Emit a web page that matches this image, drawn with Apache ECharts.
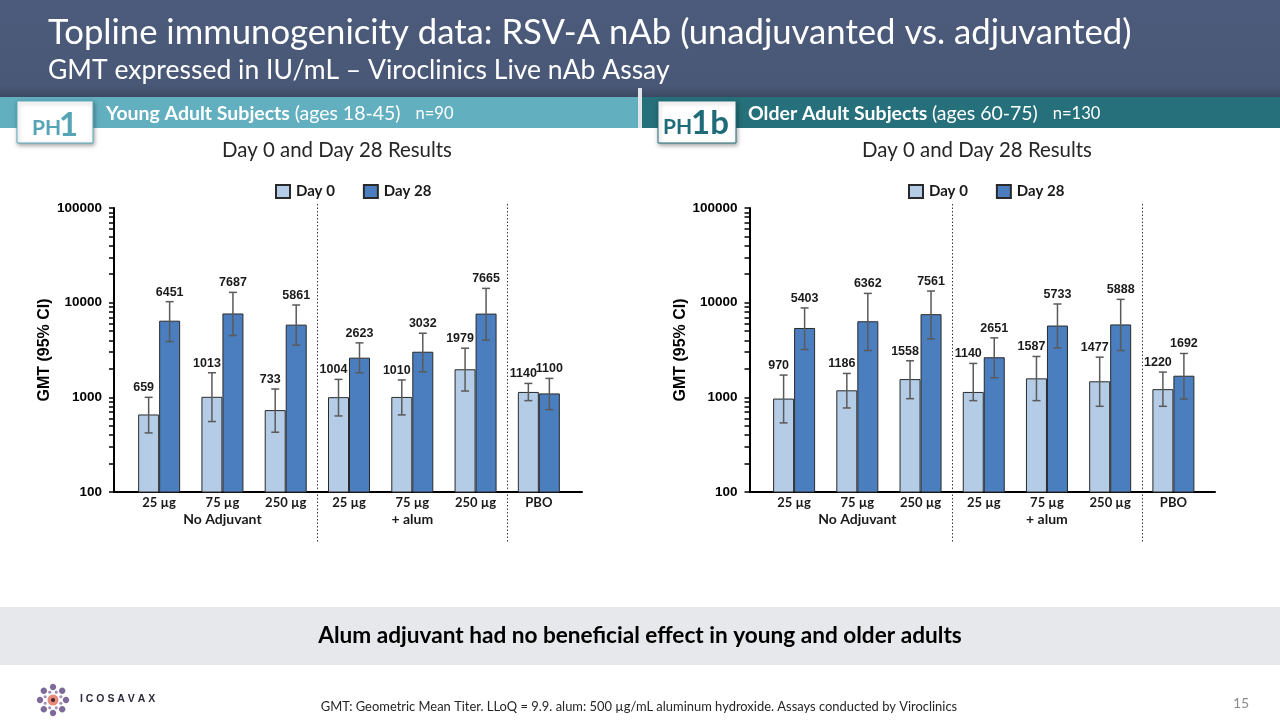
<!DOCTYPE html>
<html>
<head>
<meta charset="utf-8">
<script src="https://cdn.jsdelivr.net/npm/echarts@6/dist/echarts.min.js"></script>
<style>
html,body{margin:0;padding:0;background:#fff;}
#main{width:1280px;height:720px;}
</style>
</head>
<body>
<div id="main"></div>
<script>
// ---------------- DATA ----------------
const categories = ['25 µg', '75 µg', '250 µg', '25 µg', '75 µg', '250 µg', 'PBO'];
const groupLabels = ['', 'No Adjuvant', '', '', '+ alum', '', ''];
const seriesNames = ['Day 0', 'Day 28'];
const yTickLabels = [100, 1000, 10000, 100000];
const yMinorTicks = [100,200,300,400,500,600,700,800,900,1000,2000,3000,4000,5000,6000,7000,8000,9000,10000,20000,30000,40000,50000,60000,70000,80000,90000,100000];

// Young adults (PH1)
const youngDay0 = [659, 1013, 733, 1004, 1010, 1979, 1140];
const youngDay0Low = [421, 555, 428, 636, 652, 1166, 923];
const youngDay0High = [1000, 1818, 1224, 1547, 1526, 3303, 1403];
const youngDay28 = [6451, 7687, 5861, 2623, 3032, 7665, 1100];
const youngDay28Low = [3882, 4494, 3555, 1818, 1862, 4013, 741];
const youngDay28High = [10245, 12846, 9450, 3762, 4753, 14158, 1585];

// Older adults (PH1b)
const olderDay0 = [970, 1186, 1558, 1140, 1587, 1477, 1220];
const olderDay0Low = [537, 772, 968, 923, 923, 804, 804];
const olderDay0High = [1718, 1788, 2433, 2281, 2702, 2658, 1848];
const olderDay28 = [5403, 6362, 7561, 2651, 5733, 5888, 1692];
const olderDay28Low = [3200, 3124, 4144, 1611, 3336, 3124, 960];
const olderDay28High = [8794, 12530, 13270, 4247, 9684, 10840, 2905];

// ---------------- STYLE ----------------
const CAL = 'Lato, "Open Sans", sans-serif';
const ARI = '"Liberation Sans", Arial, sans-serif';
const C_D0 = '#b4cce6';
const C_D28 = '#4a7ebf';
const C_BORDER = '#2a2a2a';

const mctx = document.createElement('canvas').getContext('2d');
function fitSize(text, weight, family, width) {
  mctx.font = weight + ' 100px ' + family;
  return 100 * width / mctx.measureText(text).width;
}

const chart = echarts.init(document.getElementById('main'), null, {renderer: 'canvas'});

function makeRows(vals, lo, hi) {
  return vals.map((v, i) => [i, lo[i], hi[i], v]);
}

function errRender(offset, labelDx) {
  return function (params, api) {
    const i = api.value(0);
    const lo = api.coord([i, api.value(1)]);
    const hi = api.coord([i, api.value(2)]);
    const x = lo[0] + offset;
    const cap = 4;
    const ls = {stroke: '#5a5a5a', lineWidth: 1.5};
    return {
      type: 'group',
      children: [
        {type: 'line', shape: {x1: x, y1: lo[1], x2: x, y2: hi[1]}, style: ls},
        {type: 'line', shape: {x1: x - cap, y1: hi[1], x2: x + cap, y2: hi[1]}, style: ls},
        {type: 'line', shape: {x1: x - cap, y1: lo[1], x2: x + cap, y2: lo[1]}, style: ls},
        {type: 'text', x: x + labelDx, y: hi[1] - 3,
          style: {text: String(api.value(3)), align: 'center', verticalAlign: 'bottom',
            font: 'bold 12.5px ' + ARI, fill: '#1a1a1a'}}
      ]
    };
  };
}

function frameY(gridIndex) {
  return {
    type: 'log', logBase: 10, gridIndex: gridIndex, min: 100, max: 100000,
    axisLine: {show: true, lineStyle: {color: '#000', width: 2}},
    axisTick: {show: true, customValues: yMinorTicks, length: 5, inside: false,
      lineStyle: {color: '#000', width: 1.5}},
    axisLabel: {show: true, customValues: yTickLabels, margin: 12,
      formatter: function (v) { return String(Math.round(v)); },
      fontFamily: ARI, fontWeight: 'bold', fontSize: 13.5, color: '#000'},
    splitLine: {show: false},
    name: 'GMT (95% CI)', nameLocation: 'middle', nameGap: 60,
    nameTextStyle: {fontFamily: ARI, fontWeight: 'bold', fontSize: 16, color: '#000'}
  };
}
function barsY(gridIndex) {
  return {type: 'log', logBase: 10, gridIndex: gridIndex, min: 100, max: 100000, show: false};
}
function frameX(gridIndex) {
  return {
    type: 'category', gridIndex: gridIndex, data: [''],
    axisLine: {show: true, lineStyle: {color: '#000', width: 2}},
    axisTick: {show: false}, axisLabel: {show: false}, splitLine: {show: false}
  };
}
function barsX(gridIndex) {
  return {
    type: 'category', gridIndex: gridIndex, data: categories,
    axisLine: {show: false}, axisTick: {show: false},
    axisLabel: {
      show: true, margin: 3, interval: 0,
      formatter: function (v, idx) {
        return groupLabels[idx] ? '{a|' + v + '}\n{b|' + groupLabels[idx] + '}' : '{a|' + v + '}';
      },
      rich: {
        a: {fontFamily: CAL, fontWeight: 'bold', fontSize: 13, lineHeight: 16.5, color: '#1a1a1a'},
        b: {fontFamily: CAL, fontWeight: 'bold', fontSize: 14, lineHeight: 16.5, color: '#1a1a1a'}
      }
    }
  };
}

function barSeries(name, data, color, xi) {
  return {
    type: 'bar', name: name, data: data, xAxisIndex: xi, yAxisIndex: xi,
    barWidth: 21, barGap: '0%', clip: true,
    itemStyle: {color: color, borderColor: C_BORDER, borderWidth: 1},
    emphasis: {disabled: true}, z: 2
  };
}
function errSeries(name, rows, xi, offset, dx) {
  return {
    type: 'custom', name: name + ' CI', data: rows, xAxisIndex: xi, yAxisIndex: xi,
    renderItem: errRender(offset, dx), encode: {x: 0, y: [1, 2]}, z: 5, silent: true
  };
}

// ---------------- TEXT SIZES ----------------
const titleText = 'Topline immunogenicity data: RSV-A nAb (unadjuvanted vs. adjuvanted)';
const subText = 'GMT expressed in IU/mL – Viroclinics Live nAb Assay';
const fsTitle = fitSize(titleText, 'normal', CAL, 1084);
const fsSub = fitSize(subText, 'normal', CAL, 622);
const fsBand = fitSize('Young Adult Subjects', 'bold', CAL, 184);
const fsRes = fitSize('Day 0 and Day 28 Results', 'normal', CAL, 230);
const bottomText = 'Alum adjuvant had no beneficial effect in young and older adults';
const fsBottom = fitSize(bottomText, 'bold', CAL, 644);
const footText = 'GMT: Geometric Mean Titer. LLoQ = 9.9. alum: 500 µg/mL aluminum hydroxide. Assays conducted by Viroclinics';
const fsFoot = fitSize(footText, 'normal', CAL, 637);

// logo petals
const logoParts = [];
for (let k = 0; k < 8; k++) {
  const a = k * Math.PI / 4;
  logoParts.push({type: 'ellipse', shape: {cx: 53 + 13 * Math.cos(a), cy: 700 + 13 * Math.sin(a), rx: 3.2, ry: 3.2},
    style: {fill: '#7d6a98'}});
  logoParts.push({type: 'circle', shape: {cx: 53 + 8.5 * Math.cos(a + Math.PI / 8), cy: 700 + 8.5 * Math.sin(a + Math.PI / 8), r: 1.6},
    style: {fill: '#a48fb8'}});
}
logoParts.push({type: 'circle', shape: {cx: 53, cy: 700, r: 5.5}, style: {fill: '#e8897a'}});
logoParts.push({type: 'circle', shape: {cx: 53, cy: 700, r: 2}, style: {fill: '#3a2430'}});

function bandRich() {
  return {b: {fontFamily: CAL, fontWeight: 'bold', fontSize: fsBand, fill: '#fff'},
    n: {fontFamily: CAL, fontSize: fsBand, fill: '#fff'},
    s: {fontFamily: CAL, fontSize: fsBand * 0.85, fill: '#fff'}};
}

const graphics = [
  {type: 'rect', shape: {x: 0, y: 0, width: 1280, height: 97}, silent: true,
    style: {fill: new echarts.graphic.LinearGradient(0, 0, 0, 1, [
      {offset: 0, color: '#4c5b7b'}, {offset: 0.88, color: '#4a5877'}, {offset: 1, color: '#3d4962'}])}},
  {type: 'text', x: 48, y: 33, style: {text: titleText, font: 'normal ' + fsTitle + 'px ' + CAL, fill: '#ffffff', verticalAlign: 'middle'}},
  {type: 'text', x: 48, y: 70, style: {text: subText, font: 'normal ' + fsSub + 'px ' + CAL, fill: '#ffffff', verticalAlign: 'middle'}},
  {type: 'rect', shape: {x: 0, y: 97, width: 638, height: 31}, style: {fill: '#62afbf'}},
  {type: 'rect', shape: {x: 638, y: 88, width: 4, height: 40}, style: {fill: '#e3e5ea'}},
  {type: 'rect', shape: {x: 642, y: 97, width: 638, height: 31}, style: {fill: '#25707a'}},
  {type: 'text', x: 106, y: 114, style: {
    text: '{b|Young Adult Subjects }{n|(ages 18-45)   }{s|n=90}', verticalAlign: 'middle', rich: bandRich()}},
  {type: 'text', x: 748, y: 114, style: {
    text: '{b|Older Adult Subjects }{n|(ages 60-75)   }{s|n=130}', verticalAlign: 'middle', rich: bandRich()}},
  // PH badges
  {type: 'rect', shape: {x: 17, y: 101, width: 76, height: 42}, style: {fill: '#fff', stroke: '#5aaabb', lineWidth: 1,
    shadowBlur: 4, shadowColor: 'rgba(0,0,0,0.35)', shadowOffsetX: 1, shadowOffsetY: 2}},
  {type: 'text', x: 32, y: 128.5, style: {text: 'PH', font: 'bold 21px ' + CAL, fill: '#56a5b6', verticalAlign: 'middle'}},
  {type: 'text', x: 59, y: 125, style: {text: '1', font: 'bold 33px ' + CAL, fill: '#56a5b6', verticalAlign: 'middle'}},
  {type: 'rect', shape: {x: 658, y: 101, width: 78, height: 42}, style: {fill: '#fff', stroke: '#25707a', lineWidth: 1,
    shadowBlur: 4, shadowColor: 'rgba(0,0,0,0.35)', shadowOffsetX: 1, shadowOffsetY: 2}},
  {type: 'text', x: 663, y: 127, style: {text: 'PH', font: 'bold 21px ' + CAL, fill: '#1f6b77', verticalAlign: 'middle'}},
  {type: 'text', x: 691, y: 123.5, style: {text: '1b', font: 'bold 33px ' + CAL, fill: '#1f6b77', verticalAlign: 'middle'}},
  // result titles
  {type: 'text', x: 337, y: 150, style: {text: 'Day 0 and Day 28 Results', font: 'normal ' + fsRes + 'px ' + CAL, fill: '#262626', align: 'center', verticalAlign: 'middle'}},
  {type: 'text', x: 977, y: 150, style: {text: 'Day 0 and Day 28 Results', font: 'normal ' + fsRes + 'px ' + CAL, fill: '#262626', align: 'center', verticalAlign: 'middle'}},
  // bottom band
  {type: 'rect', shape: {x: 0, y: 607, width: 1280, height: 58}, style: {fill: '#e7e8eb'}},
  {type: 'text', x: 640, y: 636, style: {text: bottomText, font: 'bold ' + fsBottom + 'px ' + CAL, fill: '#000', align: 'center', verticalAlign: 'middle'}},
  {type: 'text', x: 639, y: 707, style: {text: footText, font: 'normal ' + fsFoot + 'px ' + CAL, fill: '#262626', align: 'center', verticalAlign: 'middle'}},
  {type: 'text', x: 1241, y: 703, style: {text: '15', font: 'normal 14px ' + CAL, fill: '#8c8c8c', align: 'center', verticalAlign: 'middle'}},
  {type: 'group', children: logoParts},
  {type: 'text', x: 80, y: 699, style: {text: 'I C O S A V A X', font: 'bold 10.5px ' + ARI, fill: '#2b2b3b', verticalAlign: 'middle'}}
];

function legendOpt(left) {
  return {data: seriesNames, left: left, top: 179, icon: 'rect', itemWidth: 14, itemHeight: 13, itemGap: 28,
    selectedMode: false, textStyle: {fontFamily: CAL, fontWeight: 'bold', fontSize: 15, color: '#1a1a1a', padding: [0, 0, 0, 1]}};
}

const option = {
  animation: false,
  backgroundColor: '#ffffff',
  grid: [
    {left: 114, top: 208, width: 468, height: 284},
    {left: 127.5, top: 208, width: 443, height: 284},
    {left: 749.5, top: 208, width: 465.5, height: 284},
    {left: 762.5, top: 208, width: 442.5, height: 284}
  ],
  xAxis: [frameX(0), barsX(1), frameX(2), barsX(3)],
  yAxis: [frameY(0), barsY(1), frameY(2), barsY(3)],
  legend: [legendOpt(270), legendOpt(903)],
  series: [
    barSeries('Day 0', youngDay0, C_D0, 1),
    barSeries('Day 28', youngDay28, C_D28, 1),
    barSeries('Day 0', olderDay0, C_D0, 3),
    barSeries('Day 28', olderDay28, C_D28, 3),
    errSeries('Day 0', makeRows(youngDay0, youngDay0Low, youngDay0High), 1, -10.5, -5),
    errSeries('Day 28', makeRows(youngDay28, youngDay28Low, youngDay28High), 1, 10.5, 0),
    errSeries('Day 0', makeRows(olderDay0, olderDay0Low, olderDay0High), 3, -10.5, -5),
    errSeries('Day 28', makeRows(olderDay28, olderDay28Low, olderDay28High), 3, 10.5, 0)
  ],
  graphic: graphics
};
chart.setOption(option);

// dotted separators between dose groups, placed from the category scale
const seps = [];
[1, 3].forEach(function (xi) {
  [[2, 3], [5, 6]].forEach(function (pair) {
    const a = chart.convertToPixel({xAxisIndex: xi}, pair[0]);
    const b = chart.convertToPixel({xAxisIndex: xi}, pair[1]);
    const x = Math.round((a + b) / 2) + 0.5;
    seps.push({type: 'line', shape: {x1: x, y1: 204, x2: x, y2: 543},
      style: {stroke: '#3a3a3a', lineWidth: 1, lineDash: [1.5, 2]}});
  });
});
chart.setOption({graphic: graphics.concat(seps)});
</script>
</body>
</html>
